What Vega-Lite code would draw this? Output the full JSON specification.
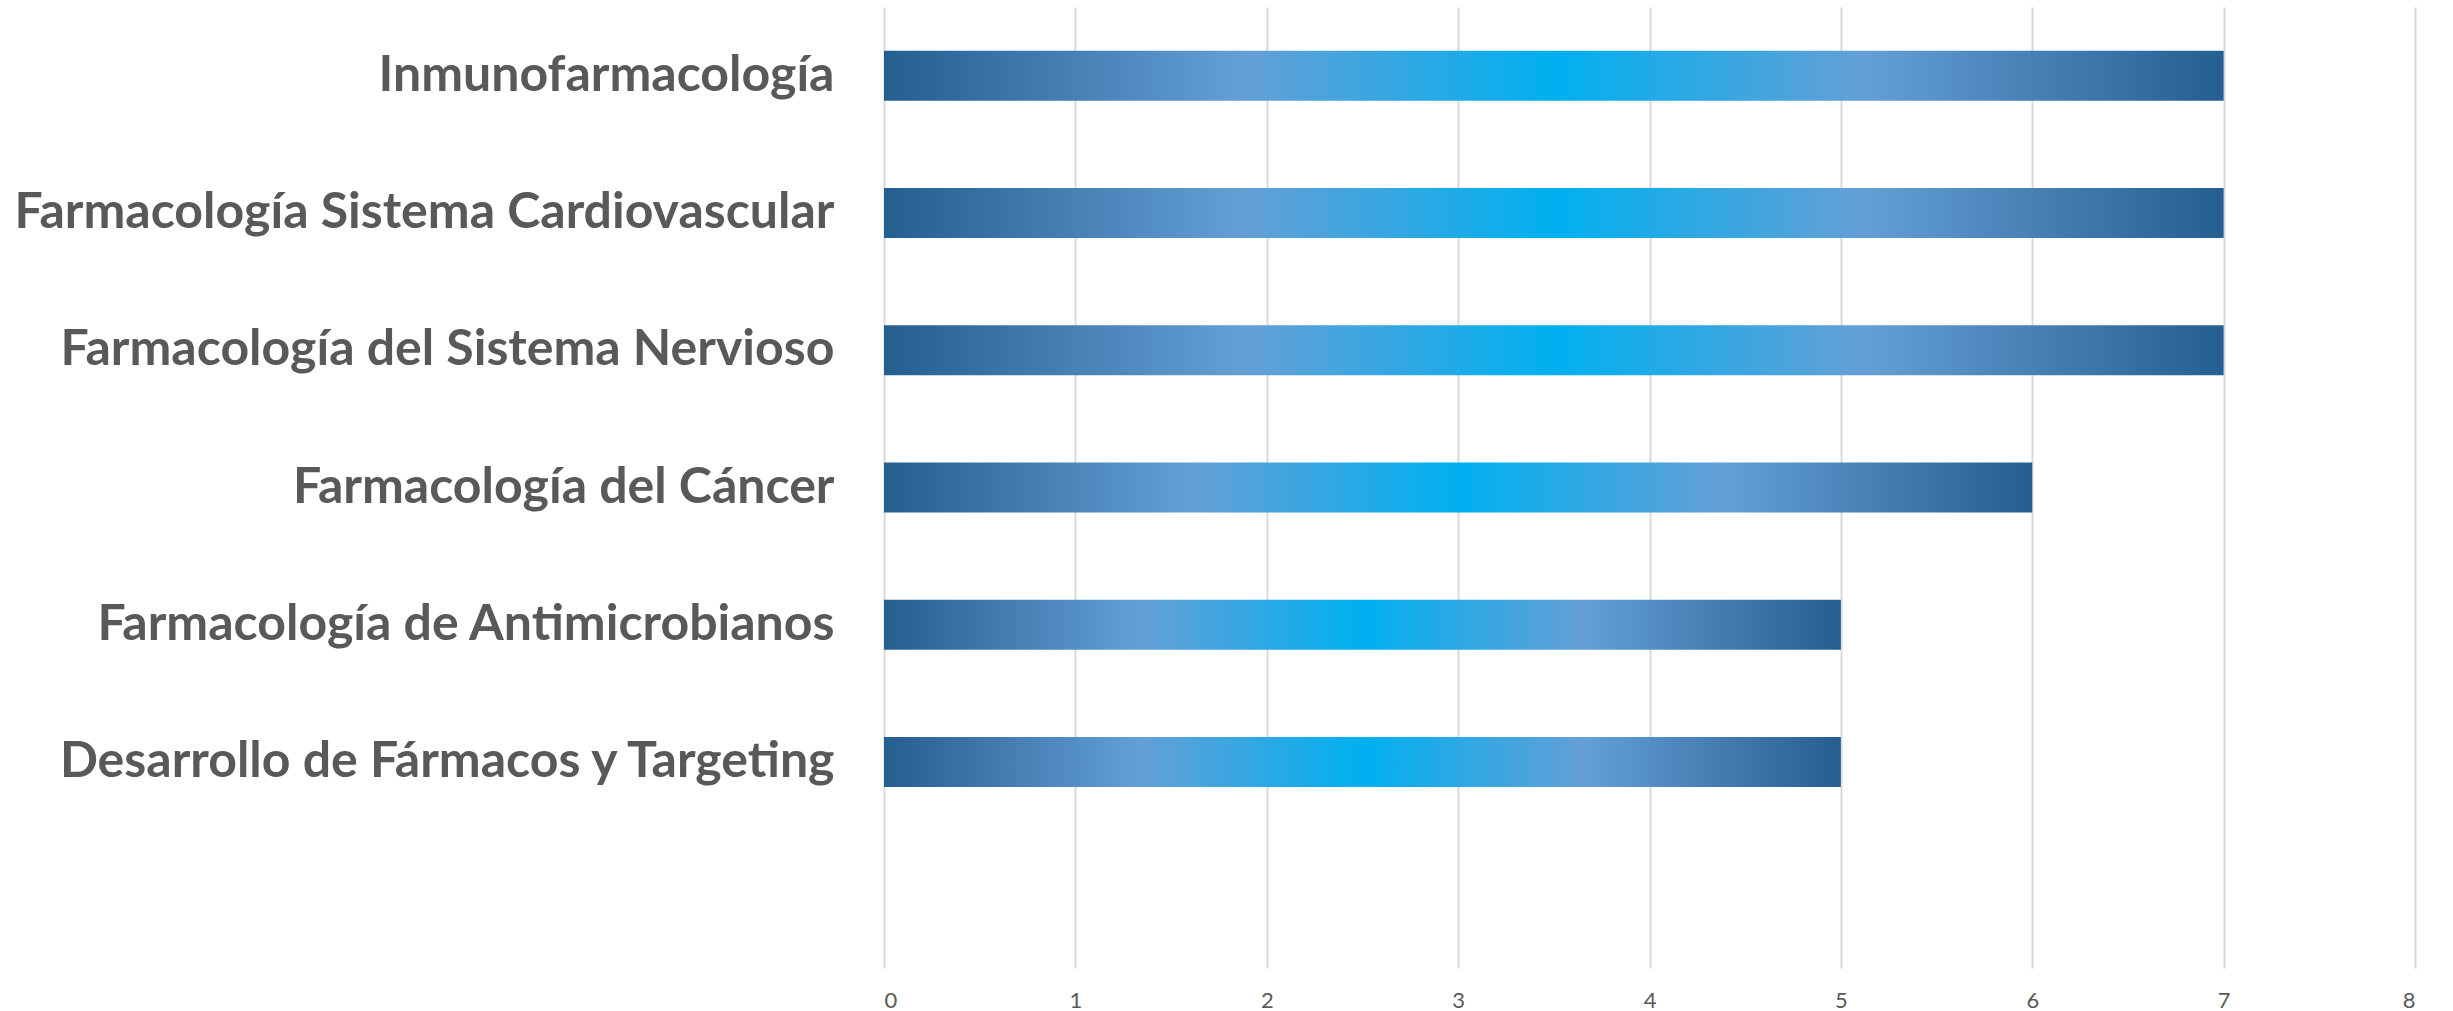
{
  "$schema": "https://vega.github.io/schema/vega-lite/v6.json",
  "width": 1531,
  "height": 961,
  "autosize": "none",
  "padding": {"left": 884, "top": 7, "right": 38, "bottom": 43},
  "background": "white",
  "data": {
    "values": [
      {"area": "Inmunofarmacología", "count": 7},
      {"area": "Farmacología Sistema Cardiovascular", "count": 7},
      {"area": "Farmacología del Sistema Nervioso", "count": 7},
      {"area": "Farmacología del Cáncer", "count": 6},
      {"area": "Farmacología de Antimicrobianos", "count": 5},
      {"area": "Desarrollo de Fármacos y Targeting", "count": 5}
    ]
  },
  "mark": {
    "type": "bar",
    "color": {
      "gradient": "linear",
      "x1": 0, "x2": 1, "y1": 0, "y2": 0,
      "stops": [
        {"offset": 0, "color": "#255E91"},
        {"offset": 0.27, "color": "#649FD6"},
        {"offset": 0.5, "color": "#00B0F0"},
        {"offset": 0.73, "color": "#649FD6"},
        {"offset": 1, "color": "#255E91"}
      ]
    }
  },
  "encoding": {
    "y": {
      "field": "area",
      "type": "nominal",
      "sort": null,
      "scale": {
        "domain": [
          "Inmunofarmacología",
          "Farmacología Sistema Cardiovascular",
          "Farmacología del Sistema Nervioso",
          "Farmacología del Cáncer",
          "Farmacología de Antimicrobianos",
          "Desarrollo de Fármacos y Targeting",
          " "
        ],
        "paddingInner": 0.636,
        "paddingOuter": 0.318
      },
      "axis": {
        "title": null,
        "ticks": false,
        "domain": false,
        "grid": false,
        "labelFont": "Lato",
        "labelFontWeight": "bold",
        "labelFontSize": 50,
        "labelColor": "#595959",
        "labelPadding": 50,
        "labelLimit": 1000
      }
    },
    "x": {
      "field": "count",
      "type": "quantitative",
      "scale": {"domain": [0, 8], "nice": false},
      "axis": {
        "title": null,
        "values": [0, 1, 2, 3, 4, 5, 6, 7, 8],
        "ticks": false,
        "domain": false,
        "grid": true,
        "gridColor": "#D9D9D9",
        "gridWidth": 2,
        "labelFont": "Lato",
        "labelFontSize": 22,
        "labelColor": "#595959",
        "labelPadding": 22
      }
    }
  },
  "config": {"view": {"stroke": null}}
}
